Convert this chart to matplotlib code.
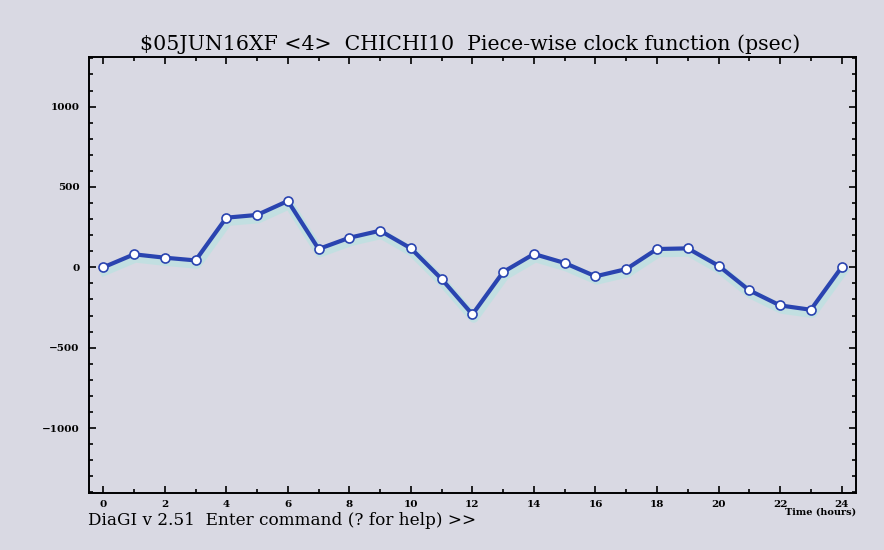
import matplotlib
matplotlib.use("Agg")
import matplotlib.pyplot as plt
import matplotlib.patheffects as pe
from matplotlib.ticker import MultipleLocator

hours = list(range(25))
clock_psec = [0, 81, 60, 43, 309, 326, 413, 114, 184, 228, 118, -73, -293,
              -29, 83, 27, -56, -11, 114, 118, 10, -143, -237, -264, 0]
xticks = [0, 2, 4, 6, 8, 10, 12, 14, 16, 18, 20, 22, 24]
yticks = [-1000, -500, 0, 500, 1000]

title = "$05JUN16XF <4>  CHICHI10  Piece-wise clock function (psec)"
status = "DiaGI v 2.51  Enter command (? for help) >>"

bg = "#d9d9e3"
fig = plt.figure(figsize=(8.84, 5.5), dpi=100, facecolor=bg)
ax = fig.add_axes([0.101, 0.104, 0.867, 0.793], facecolor=bg)

ax.plot(hours, clock_psec, color="#2a44b0", lw=3, zorder=3,
        path_effects=[pe.Stroke(offset=(1, -2.5), linewidth=7, foreground="#b4e4e0", alpha=0.6),
                      pe.Normal()])
ax.plot(hours, clock_psec, ls="none", marker="o", ms=6.5, mfc="white",
        mec="#2a44b0", mew=1.2, zorder=4)

ax.set_xlim(-0.455, 24.46)
ax.set_ylim(-1403, 1311)
ax.set_xticks(xticks)
ax.set_yticks(yticks)
ax.xaxis.set_minor_locator(MultipleLocator(1))
ax.yaxis.set_minor_locator(MultipleLocator(100))
ax.tick_params(which="both", direction="in", top=True, right=True, width=1.2, color="black")
ax.tick_params(which="major", length=5)
ax.tick_params(which="minor", length=3)
ax.tick_params(axis="x", pad=5)
ax.tick_params(axis="y", pad=7)
for lab in ax.get_xticklabels() + ax.get_yticklabels():
    lab.set_fontfamily("DejaVu Serif")
    lab.set_fontweight("bold")
    lab.set_fontsize(7.5)
for s in ax.spines.values():
    s.set_linewidth(1.4)

fig.text(0.532, 0.919, title, ha="center", va="center",
         fontfamily="DejaVu Serif", fontsize=14.8)
fig.text(0.099, 0.053, status, ha="left", va="center",
         fontfamily="DejaVu Serif", fontsize=12.2)
fig.text(0.968, 0.069, "Time (hours)", ha="right", va="center",
         fontfamily="DejaVu Serif", fontweight="bold", fontsize=7)

fig.savefig("out.png", dpi=100, facecolor=bg)
